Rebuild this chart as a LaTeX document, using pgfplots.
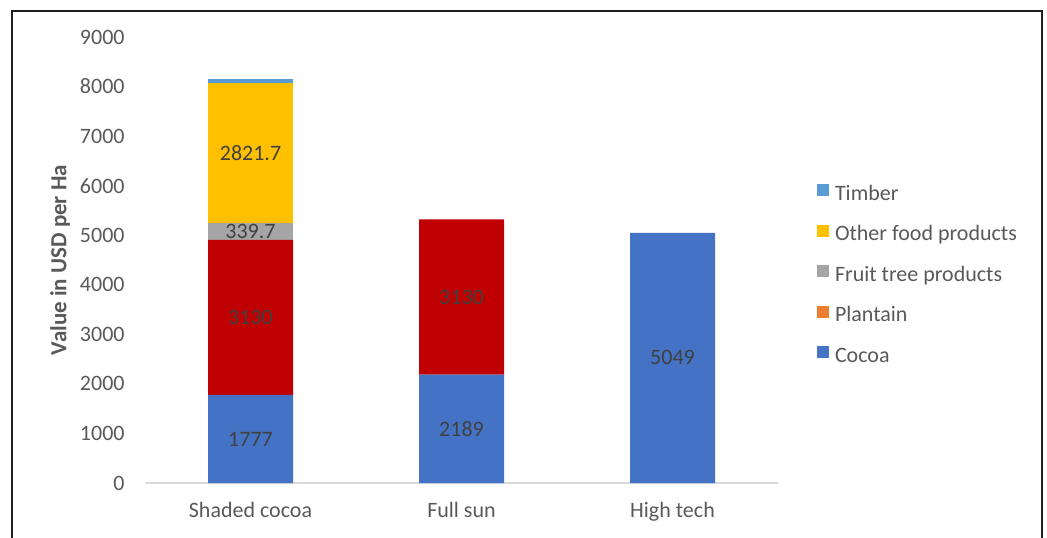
\documentclass[border=0pt]{standalone}
\usepackage{fontspec}
\setmainfont{Carlito}
\usepackage{pgfplots}
\pgfplotsset{compat=1.18}
\definecolor{cocoa}{HTML}{4472C4}
\definecolor{plantain}{HTML}{ED7D31}
\definecolor{plantbar}{HTML}{C00000}
\definecolor{fruit}{HTML}{A5A5A5}
\definecolor{otherfood}{HTML}{FFC000}
\definecolor{timber}{HTML}{5B9BD5}
\definecolor{labelgrey}{HTML}{595959}
\definecolor{valgrey}{HTML}{404040}
\definecolor{axisgrey}{HTML}{D9D9D9}

% value labels of the stacked segments, zeros left out
\pgfplotsset{
  mid labels/.style={
    point meta=explicit,
    nodes near coords={\pgfmathfloatifflags{\pgfplotspointmeta}{0}{}{\pgfmathprintnumber{\pgfplotspointmeta}}},
    every node near coord/.append style={
      anchor=center, font=\fontsize{11}{13}\selectfont, text=valgrey,
    },
  },
}

\begin{document}
\begin{tikzpicture}
\useasboundingbox (-72.5pt,-27pt) rectangle (451pt,241.5pt);
\draw[line width=1pt, black!88] (-66.25pt,-40pt) -- (-66.25pt,236pt) -- (448.5pt,236pt) -- (448.5pt,-40pt);
\begin{axis}[
  ybar stacked,
  scale only axis,
  width=316.5pt, height=223pt,
  bar width=42.5pt,
  xmin=-0.5, xmax=2.5, ymin=0, ymax=9000,
  xtick={0,1,2},
  xticklabels={Shaded cocoa, Full sun, High tech},
  ytick={0,1000,...,9000},
  axis lines*=left,
  x axis line style={draw=axisgrey, line width=1pt},
  y axis line style={draw=none},
  major tick length=0pt,
  tick style={draw=none},
  /pgf/number format/.cd, 1000 sep={}, fixed, precision=1, assume math mode=true, /pgfplots/.cd,
  ticklabel style={text=labelgrey, font=\fontsize{11}{13}\selectfont},
  yticklabel style={anchor=east, inner sep=0pt, xshift=-10pt},
  xticklabel style={anchor=base, inner sep=0pt, yshift=-17pt},
  ylabel={Value in USD per Ha},
  ylabel style={at={(axis description cs:-0.134,0.5)}, anchor=center,
    font=\bfseries\fontsize{11.5}{13}\selectfont, text=labelgrey},
  reverse legend,
  legend cell align=left,
  legend image code/.code={\fill[#1] (0pt,-0.5pt) rectangle (6pt,5.5pt);},
  legend style={draw=none, fill=none, inner sep=0pt, outer sep=0pt,
    at={(axis description cs:1.0616,0.6704)}, anchor=north west,
    row sep=9.8pt, font=\fontsize{11}{13}\selectfont, text=labelgrey,
    nodes={inner sep=0pt, text height=7.5pt, text depth=2.5pt, text=labelgrey},
    /tikz/every odd column/.style={column sep=3pt}},
]
\addplot[fill=cocoa, draw=none, mid labels] coordinates
  {(0,1777) [1777] (1,2189) [2189] (2,5049) [5049]};
\addplot[fill=plantbar, draw=none, mid labels, legend image post style={fill=plantain}] coordinates
  {(0,3130) [3130] (1,3130) [3130] (2,0) [0]};
\addplot[fill=fruit, draw=none, mid labels] coordinates
  {(0,339.7) [339.7] (1,0) [0] (2,0) [0]};
\addplot[fill=otherfood, draw=none, mid labels] coordinates
  {(0,2821.7) [2821.7] (1,0) [0] (2,0) [0]};
\addplot[fill=timber, draw=none] coordinates
  {(0,80) (1,0) (2,0)};
\legend{Cocoa, Plantain, Fruit tree products, Other food products, Timber}
\end{axis}
\end{tikzpicture}
\end{document}
